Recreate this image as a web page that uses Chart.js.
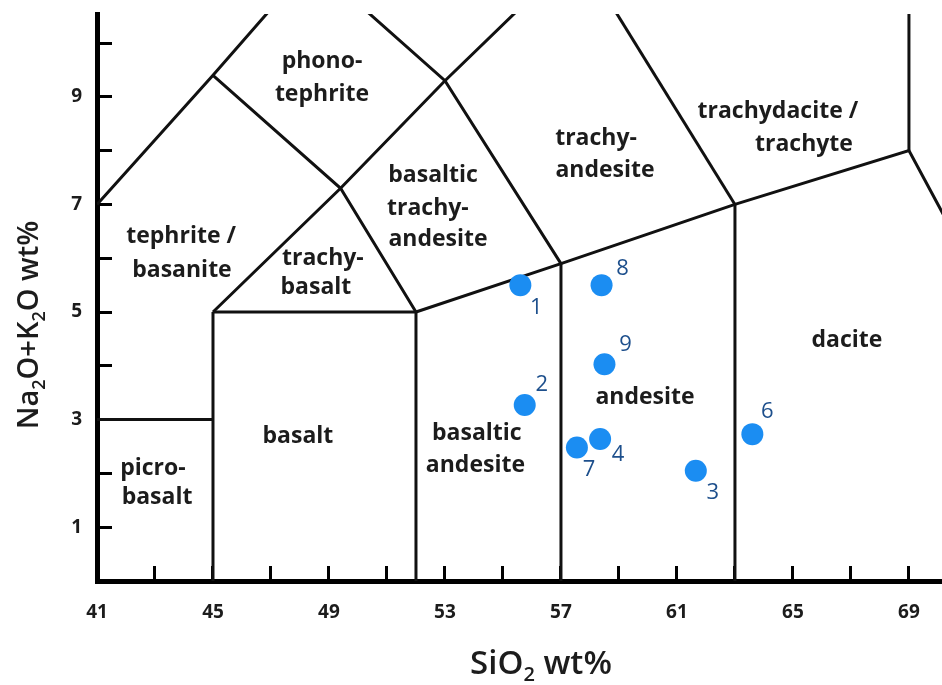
<!DOCTYPE html>
<html>
<head>
<meta charset="utf-8">
<script src="https://cdn.jsdelivr.net/npm/chart.js@4.4.1/dist/chart.umd.min.js"></script>
<style>
  html, body { margin: 0; padding: 0; background: #fff; overflow: hidden; }
  canvas { display: block; }
</style>
</head>
<body>
<canvas id="tasChart" width="942" height="685"></canvas>
<script>
// samples (SiO2 vs total alkali, wt%)
const sampleIds = ['1', '2', '3', '4', '6', '7', '8', '9'];
const sampleSiO2 = [55.6, 55.75, 61.65, 58.35, 63.6, 57.55, 58.4, 58.5];
const sampleAlkali = [5.5, 3.27, 2.05, 2.64, 2.73, 2.48, 5.5, 4.03];

// ticks
const xTickValues = [41, 43, 45, 47, 49, 51, 53, 55, 57, 59, 61, 63, 65, 67, 69];
const xTickLabels = [41, 45, 49, 53, 57, 61, 65, 69];
const yTickValues = [1, 2, 3, 4, 5, 6, 7, 8, 9, 10];
const yTickLabels = [1, 3, 5, 7, 9];

// TAS field boundaries (Le Bas et al. 1986), [SiO2, Na2O+K2O]
const picrobasaltTop = [[41, 3], [45, 3]];
const line45 = [[45, 0], [45, 5]];
const basaltTop = [[45, 5], [52, 5]];
const line52 = [[52, 0], [52, 5]];
const subalkalineTop = [[52, 5], [57, 5.9], [63, 7], [69, 8], [77, 0]];
const line57 = [[57, 0], [57, 5.9]];
const line63 = [[63, 0], [63, 7]];
const line69 = [[69, 8], [69, 13]];
const trachybasaltLeft = [[45, 5], [49.4, 7.3], [53, 9.3], [57.6, 11.7]];
const trachybasaltRight = [[52, 5], [49.4, 7.3], [45, 9.4]];
const foiditeEdge = [[41, 7], [45, 9.4], [48.4, 11.5]];
const trachyandesiteLeft = [[57, 5.9], [53, 9.3], [48.4, 11.5]];
const trachyandesiteRight = [[63, 7], [57.6, 11.7]];

// field names, one entry per text line
const fieldText = ['phono-', 'tephrite', 'tephrite /', 'basanite', 'trachy-', 'basalt',
    'basaltic', 'trachy-', 'andesite', 'trachy-', 'andesite', 'trachydacite /', 'trachyte',
    'dacite', 'andesite', 'basaltic', 'andesite', 'basalt', 'picro-', 'basalt'];
const fieldX = [48.76, 48.76, 43.9, 43.93, 48.79, 48.55,
    52.59, 52.41, 52.76, 58.21, 58.52, 64.48, 65.38,
    66.86, 59.9, 54.1, 54.05, 47.93, 42.93, 43.07];
const fieldY = [9.65, 9.05, 6.41, 5.78, 6.0, 5.45,
    7.53, 6.93, 6.34, 8.23, 7.64, 8.72, 8.12,
    4.48, 3.42, 2.75, 2.14, 2.68, 2.1, 1.56];

// where the sample number sits relative to its dot (px)
const labelDx = [16, 17, 17, 18, 15, 12, 21, 21];
const labelDy = [23, -20, 22, 16, -22, 22, -16, -19];

const boundaries = [picrobasaltTop, line45, basaltTop, line52, subalkalineTop, line57, line63,
    line69, trachybasaltLeft, trachybasaltRight, foiditeEdge, trachyandesiteLeft, trachyandesiteRight];

const lineDatasets = boundaries.map(b => ({
    type: 'line',
    data: b.map(p => ({ x: p[0], y: p[1] })),
    borderColor: '#111111',
    borderWidth: 3,
    pointRadius: 0,
    fill: false,
    tension: 0,
    clip: 0,
    order: 2
}));

const sampleDataset = {
    type: 'scatter',
    data: sampleSiO2.map((v, i) => ({ x: v, y: sampleAlkali[i] })),
    backgroundColor: '#1b8df2',
    borderWidth: 0,
    pointRadius: 11,
    order: 1
};

// write a formula with subscripted digits, centred on (cx, cy)
function drawFormula(ctx, parts, cx, cy, size) {
    const mainFont = '600 ' + size + 'px "Open Sans"';
    const subFont = '600 ' + Math.round(size * 0.62) + 'px "Open Sans"';
    let total = 0;
    parts.forEach(p => {
        ctx.font = p[1] ? subFont : mainFont;
        total += ctx.measureText(p[0]).width;
    });
    let x = cx - total / 2;
    const base = cy + size * 0.35;
    ctx.textAlign = 'left';
    ctx.textBaseline = 'alphabetic';
    parts.forEach(p => {
        ctx.font = p[1] ? subFont : mainFont;
        ctx.fillText(p[0], x, p[1] ? base + size * 0.22 : base);
        x += ctx.measureText(p[0]).width;
    });
}

// drop the extra room Chart.js keeps for edge labels
function fixPadding(s) {
    s.paddingLeft = 0;
    s.paddingRight = 0;
    s.paddingTop = 0;
    s.paddingBottom = 0;
}

const tasLabels = {
    id: 'tasLabels',
    beforeDatasetsDraw(chart) {
        const ctx = chart.ctx;
        const xs = chart.scales.x, ys = chart.scales.y;
        ctx.save();
        ctx.fillStyle = '#1c1c1c';
        ctx.font = 'bold 23px "Open Sans"';
        ctx.textAlign = 'center';
        ctx.textBaseline = 'middle';
        fieldText.forEach((t, i) => {
            ctx.fillText(t, xs.getPixelForValue(fieldX[i]), ys.getPixelForValue(fieldY[i]));
        });
        ctx.restore();
    },
    afterDatasetsDraw(chart) {
        const ctx = chart.ctx;
        const meta = chart.getDatasetMeta(chart.data.datasets.length - 1);
        ctx.save();
        ctx.fillStyle = '#1d4f8c';
        ctx.font = '22px "Open Sans"';
        ctx.textAlign = 'center';
        ctx.textBaseline = 'middle';
        meta.data.forEach((pt, i) => {
            ctx.fillText(sampleIds[i], pt.x + labelDx[i], pt.y + labelDy[i]);
        });
        ctx.restore();
    },
    afterDraw(chart) {
        const ctx = chart.ctx;
        const area = chart.chartArea;
        ctx.save();
        ctx.fillStyle = '#1c1c1c';
        drawFormula(ctx, [['SiO', 0], ['2', 1], [' wt%', 0]], 541, area.bottom + 81, 33);
        ctx.translate(28, 325);
        ctx.rotate(-Math.PI / 2);
        drawFormula(ctx, [['Na', 0], ['2', 1], ['O+K', 0], ['2', 1], ['O wt%', 0]], 0, 0, 29);
        ctx.restore();
    }
};

const tickFont = { family: 'Open Sans', size: 19, weight: 'bold' };

new Chart(document.getElementById('tasChart'), {
    type: 'scatter',
    data: { datasets: [...lineDatasets, sampleDataset] },
    options: {
        responsive: false,
        maintainAspectRatio: false,
        animation: false,
        layout: { autoPadding: false, padding: { top: 14, right: 0, bottom: 0, left: 0 } },
        plugins: {
            legend: { display: false },
            tooltip: { enabled: false }
        },
        scales: {
            x: {
                type: 'linear',
                min: 41,
                max: 70.14,
                afterBuildTicks: s => { s.ticks = xTickValues.map(v => ({ value: v })); },
                afterFit: s => { s.height = 104; fixPadding(s); },
                border: { display: true, width: 5, color: '#000' },
                grid: { drawOnChartArea: false, drawTicks: true, tickLength: -15, tickWidth: 3, tickColor: '#000' },
                ticks: {
                    autoSkip: false,
                    maxRotation: 0,
                    padding: 35,
                    color: '#1c1c1c',
                    font: tickFont,
                    callback: v => xTickLabels.includes(v) ? String(v) : ''
                }
            },
            y: {
                type: 'linear',
                min: 0,
                max: 10.54,
                afterBuildTicks: s => { s.ticks = yTickValues.map(v => ({ value: v })); },
                afterFit: s => { s.width = 97; fixPadding(s); },
                border: { display: true, width: 5, color: '#000' },
                grid: { drawOnChartArea: false, drawTicks: true, tickLength: -15, tickWidth: 3, tickColor: '#000' },
                ticks: {
                    autoSkip: false,
                    padding: 30,
                    color: '#1c1c1c',
                    font: tickFont,
                    callback: v => yTickLabels.includes(v) ? String(v) : ''
                }
            }
        }
    },
    plugins: [tasLabels]
});
</script>
</body>
</html>
